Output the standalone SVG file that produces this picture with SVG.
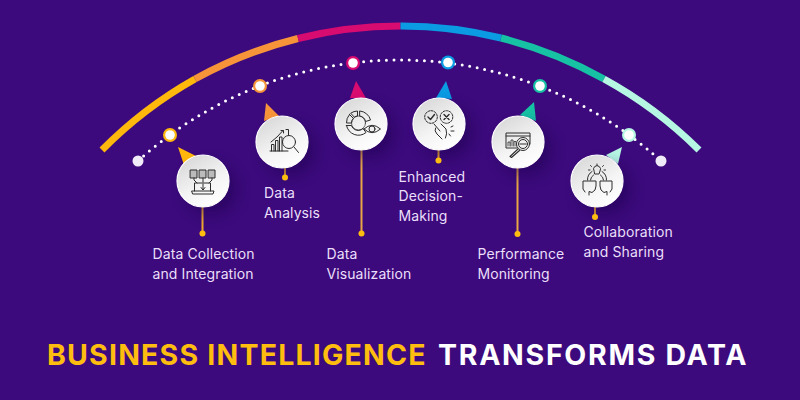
<svg xmlns="http://www.w3.org/2000/svg" width="800" height="400" viewBox="0 0 800 400">
<style>
.arc{fill:none;stroke-width:7}
.dots{fill:none;stroke:#fff;stroke-width:3;stroke-linecap:round;stroke-dasharray:0 7.6}
.stem{stroke-width:2;fill:none}
.disc{fill:url(#disc);stroke:#fff;stroke-width:1.2}
.shadow{fill:#1d0350;opacity:.5;filter:url(#blur)}
.ic{fill:none;stroke:#2c2c2c;stroke-width:1;stroke-linecap:round;stroke-linejoin:round}
.lab{font-family:Inter,"Noto Sans",sans-serif;font-size:14px;letter-spacing:.1px;fill:#eadffa}
.title{font-family:Inter,"Liberation Sans",sans-serif;font-size:28.5px;font-weight:700}
.pin{fill:#ffbd0f}
.core{fill:#fff}
</style>
<defs>
<linearGradient id="disc" x1="0.25" y1="0.1" x2="0.75" y2="0.95"><stop offset="0" stop-color="#dcdcdd"/><stop offset=".55" stop-color="#f4f4f4"/><stop offset="1" stop-color="#ffffff"/></linearGradient>
<filter id="blur" x="-50%" y="-50%" width="200%" height="200%"><feGaussianBlur stdDeviation="7"/></filter>
</defs>
<rect width="800" height="400" fill="#3c0a7c"/>

<g id="connectors">
<path class="arc" stroke="#ffb80b" d="M102 150A421 421 0 0 1 195 79"/>
<path class="arc" stroke="#f7943a" d="M195 79A421 421 0 0 1 298 38.500"/>
<path class="arc" stroke="#d80b70" d="M298 38.500A421 421 0 0 1 400.500 26"/>
<path class="arc" stroke="#0b9be3" d="M400.500 26A421 421 0 0 1 501 38"/>
<path class="arc" stroke="#17c2a4" d="M501 38A421 421 0 0 1 604 79"/>
<path class="arc" stroke="#b6f7e4" d="M604 79A421 421 0 0 1 699 150"/>
<path class="dots" d="M138 161A389 389 0 0 1 661 161"/>
<path class="stem" stroke="#f2a92e" d="M202.500 205V233"/>
<path class="stem" stroke="#f2a92e" d="M285 167V177"/>
<path class="stem" stroke="#e8a544" d="M361.500 148V233"/>
<path class="stem" stroke="#f2a92e" d="M438.500 149V160"/>
<path class="stem" stroke="#e8a544" d="M517.500 167V234"/>
<path class="stem" stroke="#f2a92e" d="M595 205V217"/>
</g>

<g id="track-markers">
<circle cx="138" cy="161" r="5.500" fill="#f0ebf8"/>
<circle cx="170" cy="135" r="7" fill="#ffb80b"/><circle class="core" cx="170" cy="135" r="4.800"/>
<circle cx="260" cy="86" r="7" fill="#f7943a"/><circle class="core" cx="260" cy="86" r="4.800"/>
<circle cx="353" cy="63" r="7" fill="#d80b70"/><circle class="core" cx="353" cy="63" r="4.800"/>
<circle cx="448" cy="62.500" r="7" fill="#0b9be3"/><circle class="core" cx="448" cy="62.500" r="4.800"/>
<circle cx="540" cy="86" r="7" fill="#17c2a4"/><circle class="core" cx="540" cy="86" r="4.800"/>
<circle cx="629" cy="135" r="7" fill="#b6f7e4"/><circle class="core" cx="629" cy="135" r="4.800"/>
<circle cx="661" cy="161" r="5.500" fill="#f0ebf8"/>
</g>

<g id="node-collection">
<polygon points="178,147 196,156 184,165" fill="#ffb80b"/>
<circle class="shadow" cx="211" cy="189" r="26"/>
<circle class="disc" cx="203" cy="181" r="26"/>
<g class="ic">
<rect x="190.500" y="170" width="6.500" height="8" fill="#bbb"/><rect x="199.500" y="170" width="6.500" height="8" fill="#bbb"/><rect x="208.500" y="170" width="6.500" height="8" fill="#bbb"/>
<path d="M194 178V180L197 183M203 178V182M212 178V180L209 183"/>
<path d="M194.500 191V183H210.500V191M192 191H214L213 194H193Z"/>
<path d="M203 184V189.500M201 187.500L203 190L205 187.500"/>
</g>
<circle class="pin" cx="202.500" cy="233.500" r="3"/>
<text class="lab" x="152.500" y="259">Data Collection</text>
<text class="lab" x="152.500" y="278.500">and Integration</text>
</g>

<g id="node-analysis">
<polygon points="266,103 279,116 264,121" fill="#f7943a"/>
<circle class="shadow" cx="290" cy="150" r="26"/>
<circle class="disc" cx="282" cy="142" r="26"/>
<g class="ic">
<path d="M270 151H288M271.500 151V144.500H274V151M275.500 151V140.500H278V151M279.500 151V137H282V151"/>
<path d="M271 142L277 137L283 130.500M281 130.500H283.500V133"/>
<circle cx="289" cy="142" r="6.500"/>
<path d="M294 147L298.500 152.500M286 129.500H288.500V135"/>
</g>
<circle class="pin" cx="285" cy="177.500" r="3"/>
<text class="lab" x="264" y="198">Data</text>
<text class="lab" x="264" y="217.500">Analysis</text>
</g>

<g id="node-visualization">
<polygon points="356,81 366,98 350,98" fill="#d80b70"/>
<circle class="shadow" cx="369" cy="132" r="26"/>
<circle class="disc" cx="361" cy="124" r="26"/>
<g class="ic">
<path d="M349.500 114.500L353.500 118.500A7 7 0 0 0 351.500 123H346.500A12 12 0 0 1 349.500 114.500Z"/>
<path d="M351 113A12 12 0 0 1 357.500 111V116A7 7 0 0 0 354.800 117Z"/>
<path d="M360 111A12 12 0 0 1 370.500 120L365.500 121.500A7 7 0 0 0 360 116Z"/>
<path d="M346.500 125.500H351.500A7 7 0 0 0 363 128.500L366 132.500A12 12 0 0 1 346.500 125.500Z"/>
<circle cx="358.500" cy="123" r="7" stroke-width=".7"/>
<path d="M364 129Q372 121.500 380.500 129Q372 136.500 364 129Z" fill="#f0f0f0"/>
<circle cx="372" cy="129" r="3"/>
</g>
<circle class="pin" cx="361.500" cy="233.500" r="3"/>
<text class="lab" x="326.500" y="259">Data</text>
<text class="lab" x="326.500" y="278.500">Visualization</text>
</g>

<g id="node-decision">
<polygon points="446,81 452,99 436,98" fill="#0b9be3"/>
<circle class="shadow" cx="447" cy="132" r="26"/>
<circle class="disc" cx="439" cy="124" r="26"/>
<g class="ic">
<circle cx="431" cy="117" r="6.300" stroke-dasharray="2 1.200"/>
<circle cx="446.500" cy="117" r="6.300" stroke-dasharray="2 1.200"/>
<path d="M428 117L430.500 119.500L434.500 114.500" stroke-width="1.400"/>
<path d="M444 114.500L449 119.500M449 114.500L444 119.500" stroke-width="1.400"/>
<path d="M434 124L440 131M441 124L446 129Q447.500 134 445.500 138M435.500 128Q434 131 437 134L442 139"/>
<path d="M451 127L453 126M451 131H454M449 134L450.500 136"/>
</g>
<circle class="pin" cx="438.500" cy="160.500" r="3"/>
<text class="lab" x="398.500" y="181.500">Enhanced</text>
<text class="lab" x="398.500" y="201">Decision-</text>
<text class="lab" x="398.500" y="220.500">Making</text>
</g>

<g id="node-monitoring">
<polygon points="534,102 520,115 536,121" fill="#17c2a4"/>
<circle class="shadow" cx="526" cy="150" r="26"/>
<circle class="disc" cx="518" cy="142" r="26"/>
<g class="ic">
<path d="M517 148H506V133H530V144M506 136H530"/>
<path d="M508 146V142H510V146M511 146V140H513V146M514 146V141.500H516V146" stroke-width=".8"/>
<circle cx="523" cy="144" r="6.500" fill="#f2f2f2"/>
<circle cx="523" cy="144" r="4.500"/>
<path d="M520 144H526"/>
<path d="M518 149L510 156.500L511.500 157.500L519.500 150.500" stroke-width="1.100"/>
</g>
<circle class="pin" cx="517.500" cy="234" r="3"/>
<text class="lab" x="477.500" y="259">Performance</text>
<text class="lab" x="477.500" y="278.500">Monitoring</text>
</g>

<g id="node-sharing">
<polygon points="622,147 606,155 618,164" fill="#b6f7e4"/>
<circle class="shadow" cx="605" cy="189" r="26"/>
<circle class="disc" cx="597" cy="181" r="26"/>
<g class="ic">
<path d="M594 171A3.500 3.500 0 1 1 600 171L599 174H595Z"/>
<path d="M597 165V164M591.500 166.500L590.500 165.500M602.500 166.500L603.500 165.500M590 170H588.500M604 170H605.500"/>
<path d="M587.500 180A9.500 9.500 0 0 1 592 171.500M606.500 180A9.500 9.500 0 0 0 602 171.500M590.500 180A6.500 6.500 0 0 1 593.500 175M603.500 180A6.500 6.500 0 0 0 600.500 175"/>
<path d="M585 192L583 189V181H596V186L595 190L592 192.500L589 191.500V195"/>
<path d="M610 192L612 189V181H600V186L601 190L604 192.500L607 191.500V195"/>
</g>
<circle class="pin" cx="595" cy="217" r="3"/>
<text class="lab" x="583.500" y="237">Collaboration</text>
<text class="lab" x="583.500" y="256.500">and Sharing</text>
</g>

<text id="title" class="title" y="364.500"><tspan x="47" fill="#ffbd0f" letter-spacing="1.2">BUSINESS INTELLIGENCE</tspan><tspan x="438" fill="#ffffff" letter-spacing="1.7">TRANSFORMS DATA</tspan></text>
</svg>
